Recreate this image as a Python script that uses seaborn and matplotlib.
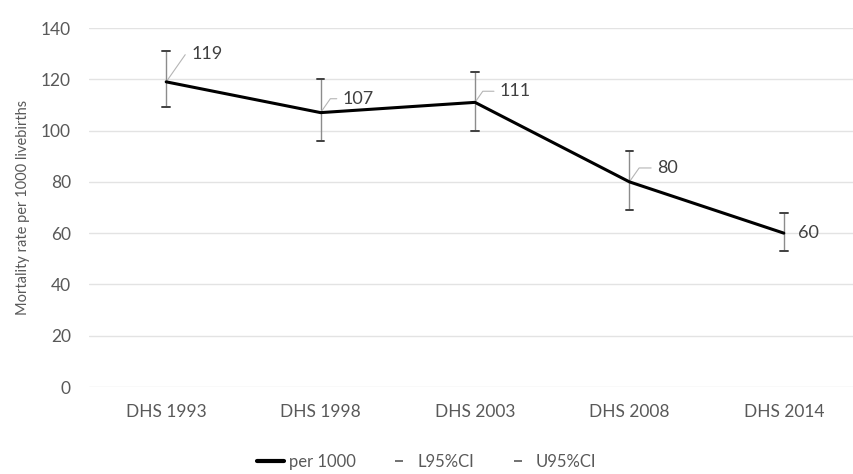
import pandas as pd
import seaborn as sns
import matplotlib.pyplot as plt
from matplotlib.lines import Line2D

surveys = ['DHS 1993', 'DHS 1998', 'DHS 2003', 'DHS 2008', 'DHS 2014']
per_1000 = [119, 107, 111, 80, 60]
l95 = [109, 96, 100, 69, 53]
u95 = [131, 120, 123, 92, 68]

# label offsets in points (dx, dy) and whether a leader line is drawn
label_offsets = [(18, 20), (16, 10), (18, 8), (20, 10), (10, 0)]
leaders = [True, True, True, True, False]

df = pd.DataFrame({'survey': surveys, 'per 1000': per_1000, 'L95%CI': l95, 'U95%CI': u95})

sns.set_style('white')
plt.rcParams['font.family'] = ['Lato', 'DejaVu Sans']

grey = '#595959'
fig = plt.figure(figsize=(8.54, 4.74), dpi=100)
ax = fig.add_axes([89 / 854, 1 - 387 / 474, 772 / 854, 359 / 474])

x = list(range(len(surveys)))
df['x'] = x

# confidence interval whiskers
lo = [p - l for p, l in zip(per_1000, l95)]
hi = [u - p for p, u in zip(per_1000, u95)]
ax.errorbar(x, per_1000, yerr=[lo, hi], fmt='none', ecolor='#8c8c8c',
            elinewidth=1.0, capsize=0, zorder=2)
for xi, l, u in zip(x, l95, u95):
    ax.plot([xi - 0.025, xi + 0.025], [l, l], color='#404040', lw=1.4, zorder=3)
    ax.plot([xi - 0.025, xi + 0.025], [u, u], color='#404040', lw=1.4, zorder=3)

sns.lineplot(data=df, x='x', y='per 1000', color='black', linewidth=2.2, ax=ax, zorder=4)

for xi, v, (dx, dy), lead in zip(x, per_1000, label_offsets, leaders):
    if lead:
        ax.annotate(str(v), xy=(xi, v), xytext=(dx, dy), textcoords='offset points',
                    fontsize=13, color='#404040', va='center', ha='left',
                    arrowprops=dict(arrowstyle='-', color='#b5b5b5', lw=0.8,
                                    connectionstyle='angle,angleA=0,angleB=55,rad=0',
                                    shrinkA=2, shrinkB=0))
    else:
        ax.annotate(str(v), xy=(xi, v), xytext=(dx, dy), textcoords='offset points',
                    fontsize=13, color='#404040', va='center', ha='left')

ax.set_xlim(-0.5, 4.5)
ax.set_ylim(0, 140)
ax.set_yticks(range(0, 141, 20))
ax.set_xticks(x)
ax.set_xticklabels(surveys)
ax.yaxis.grid(True, color='#e3e3e3', lw=1)
ax.set_axisbelow(True)
sns.despine(ax=ax, left=True, bottom=True)
ax.tick_params(axis='both', length=0, colors=grey, labelsize=12.5)
ax.tick_params(axis='x', pad=12)
ax.tick_params(axis='y', pad=13)
ax.set_xlabel('')
ax.set_ylabel('Mortality rate per 1000 livebirths', color=grey, fontsize=10.5, labelpad=8)

handles = [Line2D([], [], color='black', lw=3),
           Line2D([], [], color=grey, marker='_', ls='none', markersize=6, markeredgewidth=1.2),
           Line2D([], [], color=grey, marker='_', ls='none', markersize=6, markeredgewidth=1.2)]
fig.legend(handles, ['per 1000', 'L95%CI', 'U95%CI'], loc='center', bbox_to_anchor=(0.5, 0.025),
           ncol=3, frameon=False, fontsize=12, labelcolor=grey, handlelength=1.6,
           handletextpad=0.3, columnspacing=1.8)

fig.savefig('out.png', dpi=100)
